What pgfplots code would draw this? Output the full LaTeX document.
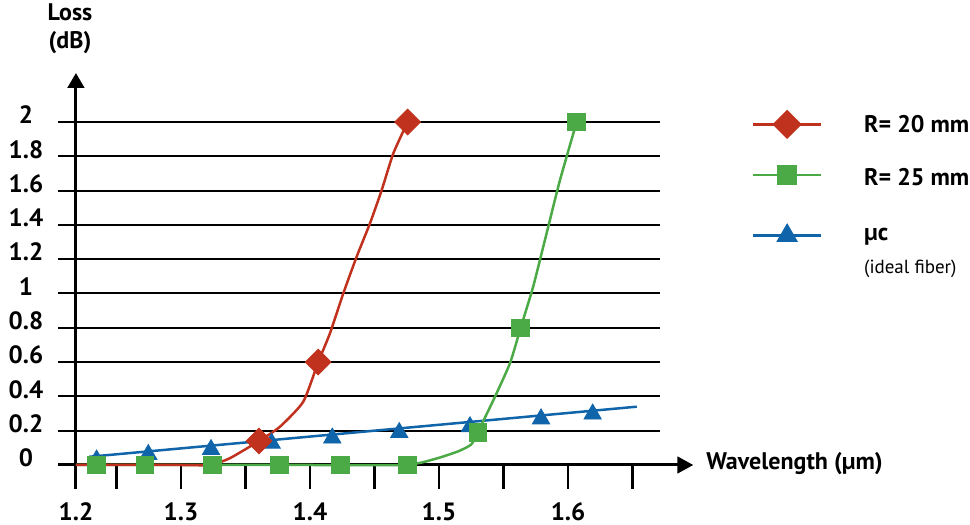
\documentclass[border=0pt]{standalone}
\usepackage{pgfplots}
\pgfplotsset{compat=1.18}
\usepackage{fontspec}
\setmainfont{PT Sans}
\usetikzlibrary{arrows.meta}

\definecolor{lossred}{RGB}{192,50,30}
\definecolor{lossgreen}{RGB}{76,170,70}
\definecolor{lossblue}{RGB}{16,100,170}

\begin{document}
\begin{tikzpicture}[font=\fontsize{12}{14}\selectfont\bfseries]
\useasboundingbox (0,0) rectangle (485pt,262.5pt);
\begin{axis}[
    at={(29pt,30pt)}, anchor=south west,
    scale only axis, width=301pt, height=171.5pt,
    xmin=1.2047, xmax=1.6713, ymin=0, ymax=2,
    clip=false,
    axis line style={draw=none},
    ymajorgrids, grid style={line width=1pt, black},
    ytick={0,0.2,0.4,0.6,0.8,1,1.2,1.4,1.6,1.8,2},
    yticklabels={0,0.2,0.4,0.6,0.8,1,1.2,1.4,1.6,1.8,2},
    ytick style={draw=none},
    xtick={1.2186,1.25,1.3,1.35,1.4,1.45,1.5,1.55,1.6,1.65},
    xticklabels={1.2,,1.3,,1.4,,1.5,,1.6,},
    xtick pos=bottom, ytick pos=left,
    tick align=outside, major tick length=12pt,
    xtick style={line width=1.2pt, black},
    /pgf/number format/assume math mode=true,
    ticklabel style={font=\fontsize{12.5}{14}\selectfont\bfseries},
    yticklabel style={anchor=center, xshift=-4pt, yshift=3.5pt},
    xticklabel style={anchor=center, yshift=-11.5pt},
    legend cell align=left,
    legend style={draw=none, fill=none, inner sep=0pt,
        at={(1.1523,1.0356)}, anchor=north west,
        cells={anchor=base west}, nodes={inner sep=0pt},
        column sep=21pt, row sep=0pt,
        font=\fontsize{12}{14}\selectfont\bfseries},
    legend image code/.code={
        \draw[mark repeat=2, mark phase=2, #1]
            plot coordinates {(0pt,3.9pt) (16.9pt,3.9pt) (33.8pt,3.9pt)};},
]
% axis lines with arrows
\draw[line width=1.5pt, -{Triangle[length=8pt,width=8.3pt]}]
    (axis cs:1.2047,0) -- ([xshift=16.65pt]axis cs:1.6713,0);
\draw[line width=1.5pt, -{Triangle[length=7.5pt,width=8.3pt]}]
    ([yshift=-12pt]axis cs:1.2186,0) -- ([yshift=24.5pt]axis cs:1.2186,2);

% mu c (ideal fiber)
\addplot[lossblue, line width=1.25pt, forget plot] coordinates {
    (1.229,0.048) (1.6533,0.34)};
\addplot[only marks, mark=triangle*, mark size=5pt, color=lossblue, forget plot] coordinates {
    (1.2346,0.029) (1.2747,0.061) (1.3233,0.090) (1.3703,0.127) (1.4173,0.157)
    (1.4692,0.189) (1.5240,0.223) (1.5791,0.269) (1.6191,0.297)};

% R = 25 mm
\addplot[lossgreen, line width=1.25pt, smooth, tension=0.35, forget plot] coordinates {
    (1.2186,0) (1.40,0) (1.47,0) (1.485,0.012) (1.50,0.042) (1.515,0.08)
    (1.525,0.12) (1.53,0.19) (1.5422,0.379) (1.555,0.593) (1.5633,0.8)
    (1.573,1.04) (1.5834,1.351) (1.5938,1.662) (1.6067,2)};
\addplot[only marks, mark=square*, mark size=4.4pt, color=lossgreen, forget plot] coordinates {
    (1.2345,0) (1.2721,0) (1.3243,0) (1.3762,0) (1.4238,0) (1.4754,0)
    (1.5300,0.19) (1.5633,0.8) (1.6067,2)};

% R = 20 mm
\addplot[lossred, line width=1.25pt, smooth, tension=0.35, forget plot] coordinates {
    (1.2186,0) (1.30,0) (1.3225,0) (1.338,0.04) (1.3605,0.14) (1.3767,0.223)
    (1.3948,0.369) (1.4064,0.6) (1.4155,0.768) (1.4258,1.0) (1.4362,1.215)
    (1.4465,1.409) (1.4556,1.603) (1.4646,1.817) (1.4757,2)};
\addplot[only marks, mark=square*, mark size=4.54pt, mark options={rotate=45}, color=lossred, forget plot] coordinates {
    (1.3605,0.14) (1.4064,0.6) (1.4757,2)};

\addlegendimage{lossred, line width=1.25pt, mark=square*, mark size=4.54pt, mark options={rotate=45}}
\addlegendentry[text height=11pt, text depth=15.85pt]{R= 20 mm}
\addlegendimage{lossgreen, line width=1.25pt, mark=square*, mark size=4.4pt, yshift=1.5pt}
\addlegendentry[text height=11pt, text depth=16.25pt]{R= 25 mm}
\addlegendimage{lossblue, line width=1.25pt, mark=triangle*, mark size=5pt, yshift=-1.5pt}
\addlegendentry[text height=11pt, text depth=8.35pt]{µc}
\addlegendimage{empty legend}
\addlegendentry[text height=8pt, text depth=3pt, font=\normalfont\fontsize{9.5}{11}\selectfont]{(ideal fiber)}
\end{axis}
\node[align=center] at (35pt,248.25pt) {Loss\\(dB)};
\node[anchor=base west, inner sep=0pt] at (353pt,27.5pt) {Wavelength (µm)};
\end{tikzpicture}
\end{document}
